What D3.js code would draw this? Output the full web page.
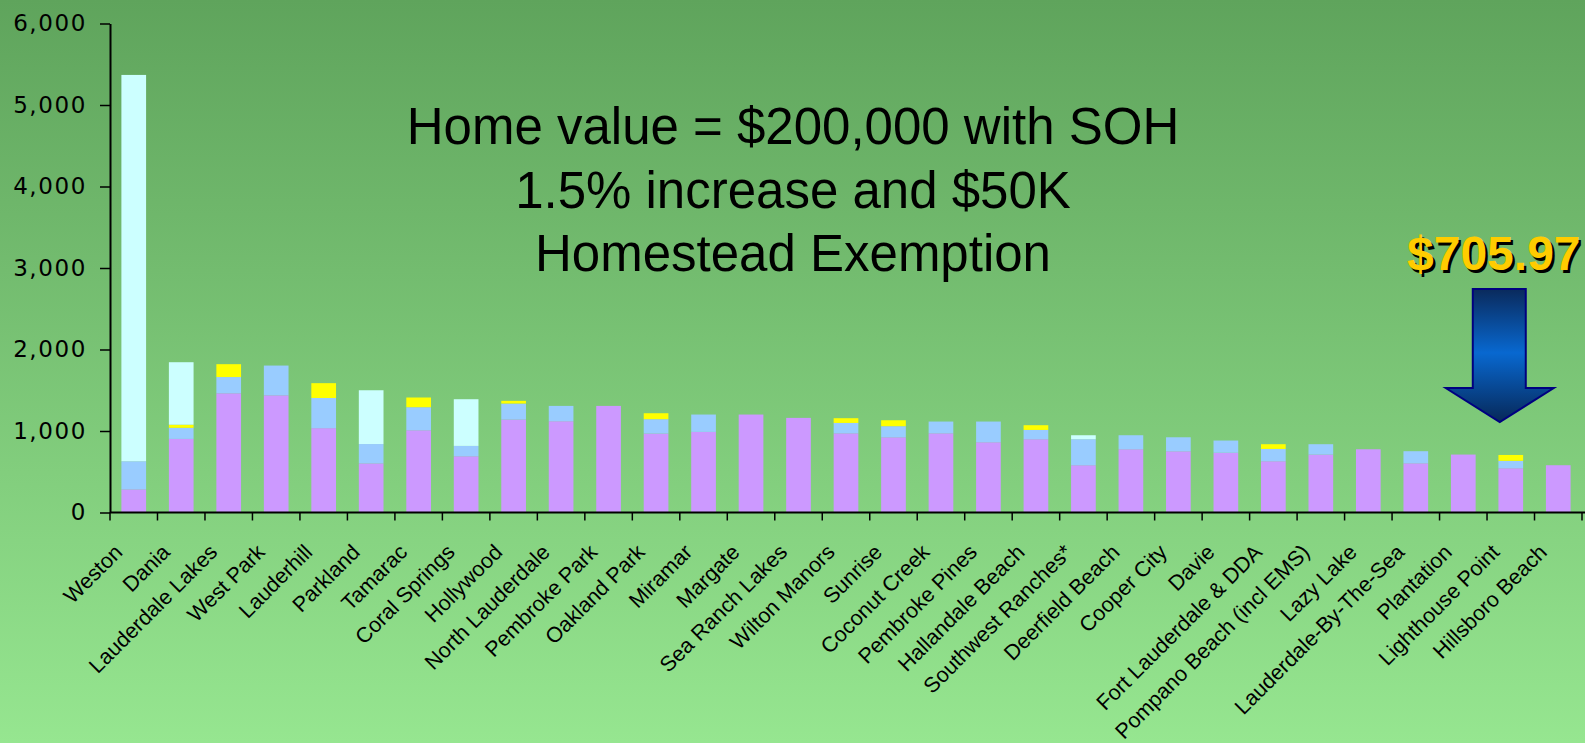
<!DOCTYPE html>
<html>
<head>
<meta charset="utf-8">
<script src="https://cdn.jsdelivr.net/npm/d3@7"></script>
<style>
  html, body { margin: 0; padding: 0; overflow: hidden; }
  svg { display: block; }
</style>
</head>
<body>
<div id="chart"></div>
<script>
// cities, in the order shown
var cities = ["Weston", "Dania", "Lauderdale Lakes", "West Park", "Lauderhill", "Parkland",
    "Tamarac", "Coral Springs", "Hollywood", "North Lauderdale", "Pembroke Park", "Oakland Park",
    "Miramar", "Margate", "Sea Ranch Lakes", "Wilton Manors", "Sunrise", "Coconut Creek",
    "Pembroke Pines", "Hallandale Beach", "Southwest Ranches*", "Deerfield Beach", "Cooper City",
    "Davie", "Fort Lauderdale & DDA", "Pompano Beach (incl EMS)", "Lazy Lake",
    "Lauderdale-By-The-Sea", "Plantation", "Lighthouse Point", "Hillsboro Beach"];

// stacked pieces, bottom to top
var series1 = [284, 903, 1463, 1438, 1035, 603, 1009, 690, 1141, 1120, 1308, 969, 989, 1202, 1161,
    972, 923, 972, 862, 899, 580, 776, 751, 733, 629, 711, 776, 604, 711, 543, 580];
var series2 = [345, 136, 199, 365, 370, 237, 283, 127, 196, 188, 0, 176, 213, 0, 0,
    127, 136, 144, 254, 114, 319, 172, 172, 150, 151, 127, 0, 148, 0, 91, 0];
var series3 = [0, 38, 158, 0, 182, 0, 119, 0, 33, 0, 0, 73, 0, 0, 0,
    58, 73, 0, 0, 58, 0, 0, 0, 0, 58, 0, 0, 0, 0, 72, 0];
var series4 = [4740, 767, 0, 0, 0, 660, 0, 573, 0, 0, 0, 0, 0, 0, 0,
    0, 0, 0, 0, 0, 49, 0, 0, 0, 0, 0, 0, 0, 0, 0, 0];

var yTicks = [0, 1000, 2000, 3000, 4000, 5000, 6000];
var titleLines = ["Home value = $200,000 with SOH", "1.5% increase and $50K", "Homestead Exemption"];
var calloutCity = "Lighthouse Point";
var calloutText = "$705.97";

var W = 1585, H = 743;
var colors = ["#CC99FF", "#99CCFF", "#FFFF00", "#CCFFFF"];

var svg = d3.select("#chart").append("svg")
    .attr("width", W)
    .attr("height", H);

var defs = svg.append("defs");
var bg = defs.append("linearGradient").attr("id", "bg")
    .attr("x1", 0).attr("y1", 0).attr("x2", 0).attr("y2", 1);
bg.append("stop").attr("offset", "0%").attr("stop-color", "#5FA45C");
bg.append("stop").attr("offset", "100%").attr("stop-color", "#96E690");

var arrowGrad = defs.append("linearGradient").attr("id", "arrowGrad")
    .attr("x1", 0).attr("y1", 0).attr("x2", 0).attr("y2", 1);
arrowGrad.append("stop").attr("offset", "0%").attr("stop-color", "#0A2A5C");
arrowGrad.append("stop").attr("offset", "48%").attr("stop-color", "#0868D0");
arrowGrad.append("stop").attr("offset", "100%").attr("stop-color", "#072858");

svg.append("rect").attr("width", W).attr("height", H).attr("fill", "url(#bg)");

//build the table for the stack
var table = cities.map(function (c, i) {
    return {city: c, s1: series1[i], s2: series2[i], s3: series3[i], s4: series4[i]};
});
var stack = d3.stack().keys(["s1", "s2", "s3", "s4"])(table);

var x = d3.scaleBand()
    .domain(cities)
    .range([110, 1582])
    .paddingInner(0.48)
    .paddingOuter(0.24);

var y = d3.scaleLinear()
    .domain([0, 6000])
    .range([512.5, 23.5]);

//bars
svg.append("g").selectAll("g")
    .data(stack)
    .enter()
    .append("g")
    .attr("fill", function (d, i) { return colors[i]; })
    .selectAll("rect")
    .data(function (d) { return d; })
    .enter()
    .filter(function (d) { return d[1] - d[0] > 0; })
    .append("rect")
    .attr("x", function (d) { return x(d.data.city); })
    .attr("width", x.bandwidth())
    .attr("y", function (d) { return y(d[1]); })
    .attr("height", function (d) { return y(d[0]) - y(d[1]); });

//y axis
var yAxis = svg.append("g")
    .attr("transform", "translate(110,0)")
    .call(d3.axisLeft(y).tickValues(yTicks).tickFormat(d3.format(",")).tickSize(10).tickSizeOuter(0).tickPadding(13));
yAxis.select(".domain").attr("stroke", "#000").attr("stroke-width", 2);
yAxis.selectAll(".tick line").attr("stroke", "#000").attr("stroke-width", 1.5);
yAxis.selectAll("text")
    .style("font-family", "'DejaVu Sans', Verdana, sans-serif")
    .style("font-size", "23px")
    .style("letter-spacing", "1.6px")
    .attr("fill", "#000");

//x axis labels
var xAxis = svg.append("g")
    .attr("transform", "translate(0," + y(0) + ")")
    .call(d3.axisBottom(x).tickSize(0).tickSizeOuter(0));
xAxis.select(".domain").remove();
xAxis.selectAll("text")
    .attr("x", 0).attr("y", 0).attr("dy", 0)
    .attr("transform", "translate(-10,41) rotate(-45)")
    .style("text-anchor", "end")
    .style("font-family", "'Liberation Sans', Arial, sans-serif")
    .style("font-size", "21.5px")
    .attr("fill", "#000");

//x axis line + ticks between categories
svg.append("line")
    .attr("x1", x.range()[0]).attr("x2", x.range()[1] + 3)
    .attr("y1", y(0)).attr("y2", y(0))
    .attr("stroke", "#000").attr("stroke-width", 2);
var bounds = d3.range(cities.length + 1).map(function (i) { return x.range()[0] + i * x.step(); });
svg.append("g").selectAll("line")
    .data(bounds)
    .enter()
    .append("line")
    .attr("x1", function (d) { return d; }).attr("x2", function (d) { return d; })
    .attr("y1", y(0)).attr("y2", y(0) + 8)
    .attr("stroke", "#000").attr("stroke-width", 1.5);

//title
svg.append("text")
    .attr("x", 793)
    .attr("y", 144)
    .style("font-family", "'Liberation Sans', Arial, sans-serif")
    .style("font-size", "51px")
    .attr("text-anchor", "middle")
    .attr("fill", "#000")
    .selectAll("tspan")
    .data(titleLines)
    .enter()
    .append("tspan")
    .attr("x", 793)
    .attr("dy", function (d, i) { return i == 0 ? 0 : 63.5; })
    .text(function (d) { return d; });

//callout: arrow and amount
var cx = x(calloutCity) + x.bandwidth() / 2 - 11;
var tipY = 422;
var arrowPts = [
    [cx - 27, 289], [cx + 26, 289], [cx + 26, 388], [cx + 54, 388],
    [cx, tipY], [cx - 54, 388], [cx - 27, 388]
];
svg.append("path")
    .attr("d", d3.line()(arrowPts) + "Z")
    .attr("fill", "url(#arrowGrad)")
    .attr("stroke", "#000080")
    .attr("stroke-width", 2);

var callout = svg.append("g")
    .style("font-family", "'Liberation Sans', Arial, sans-serif")
    .style("font-size", "48px")
    .style("font-weight", "bold")
    .attr("text-anchor", "middle");
callout.append("text")
    .attr("x", cx - 6 + 2.5).attr("y", 270 + 2.5)
    .attr("fill", "#000")
    .text(calloutText);
callout.append("text")
    .attr("x", cx - 6).attr("y", 270)
    .attr("fill", "#FFCC00")
    .text(calloutText);
</script>
</body>
</html>
